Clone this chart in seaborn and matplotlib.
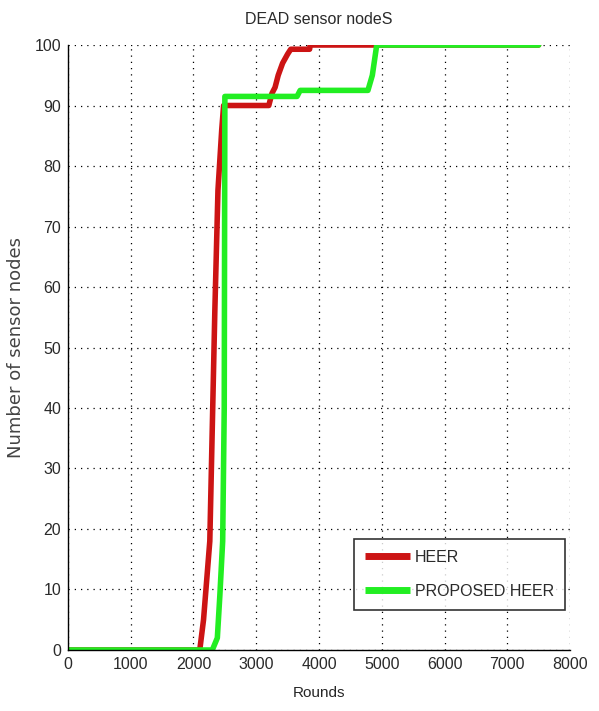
import matplotlib
matplotlib.use("Agg")
import matplotlib.pyplot as plt
import seaborn as sns
import pandas as pd

# curve points
heer_rounds = [0, 2100, 2160, 2260, 2340, 2390, 2450, 2480, 3200, 3250, 3300, 3350, 3420, 3500, 3550, 3850, 3860, 7500]
heer_dead = [0, 0, 5, 18, 56, 76, 86, 90, 90, 92, 93, 95, 97, 98.5, 99.3, 99.3, 100, 100]

prop_rounds = [0, 2300, 2380, 2420, 2465, 2490, 2500, 3650, 3700, 4780, 4850, 4920, 7500]
prop_dead = [0, 0, 2, 9, 18, 40, 91.5, 91.5, 92.5, 92.5, 95, 100, 100]

series_names = ["HEER", "PROPOSED HEER"]
series_colors = ["#cc1414", "#22ee22"]

df = pd.concat([
    pd.DataFrame({"Rounds": heer_rounds, "Dead": heer_dead, "Protocol": series_names[0]}),
    pd.DataFrame({"Rounds": prop_rounds, "Dead": prop_dead, "Protocol": series_names[1]}),
])

sns.set_style("white")
plt.rcParams["font.family"] = ["Liberation Sans", "DejaVu Sans"]
plt.rcParams["text.color"] = "#2a2a2a"

fig = plt.figure(figsize=(5.99, 7.11), dpi=100)
ax = fig.add_axes([0.1135, 0.0858, 0.8381, 0.8509])

sns.lineplot(data=df, x="Rounds", y="Dead", hue="Protocol", hue_order=series_names,
             palette=series_colors, linewidth=4, estimator=None, sort=False, ax=ax)

ax.set_xlim(0, 8000)
ax.set_ylim(0, 100)
ax.set_xticks(range(0, 8001, 1000))
ax.set_yticks(range(0, 101, 10))
ax.grid(True, color="black", linestyle=(0, (1, 4)), linewidth=0.9)
ax.tick_params(direction="in", length=4, labelsize=11.5, colors="black", labelcolor="#2a2a2a", pad=5)
for side in ["top", "right"]:
    ax.spines[side].set_visible(False)
for side in ["left", "bottom"]:
    ax.spines[side].set_color("black")
    ax.spines[side].set_linewidth(1.0)

ax.set_title("DEAD sensor nodeS", fontsize=11.5, pad=15)
ax.set_xlabel("Rounds", fontsize=11, labelpad=10)
ax.set_ylabel("Number of sensor nodes", fontsize=13, family="DejaVu Sans", color="#444444")
ax.yaxis.set_label_coords(-0.085, 0.5)

leg = ax.legend(loc="lower right", bbox_to_anchor=(0.99, 0.066), borderaxespad=0,
                fontsize=11.5, frameon=True, fancybox=False, edgecolor="black",
                handlelength=2.8, borderpad=0.7, labelspacing=1.2, handletextpad=0.3)
leg.get_frame().set_linewidth(1.2)
for line in leg.get_lines():
    line.set_linewidth(5)
    line.set_solid_capstyle("butt")

fig.savefig("out.png", dpi=100)
